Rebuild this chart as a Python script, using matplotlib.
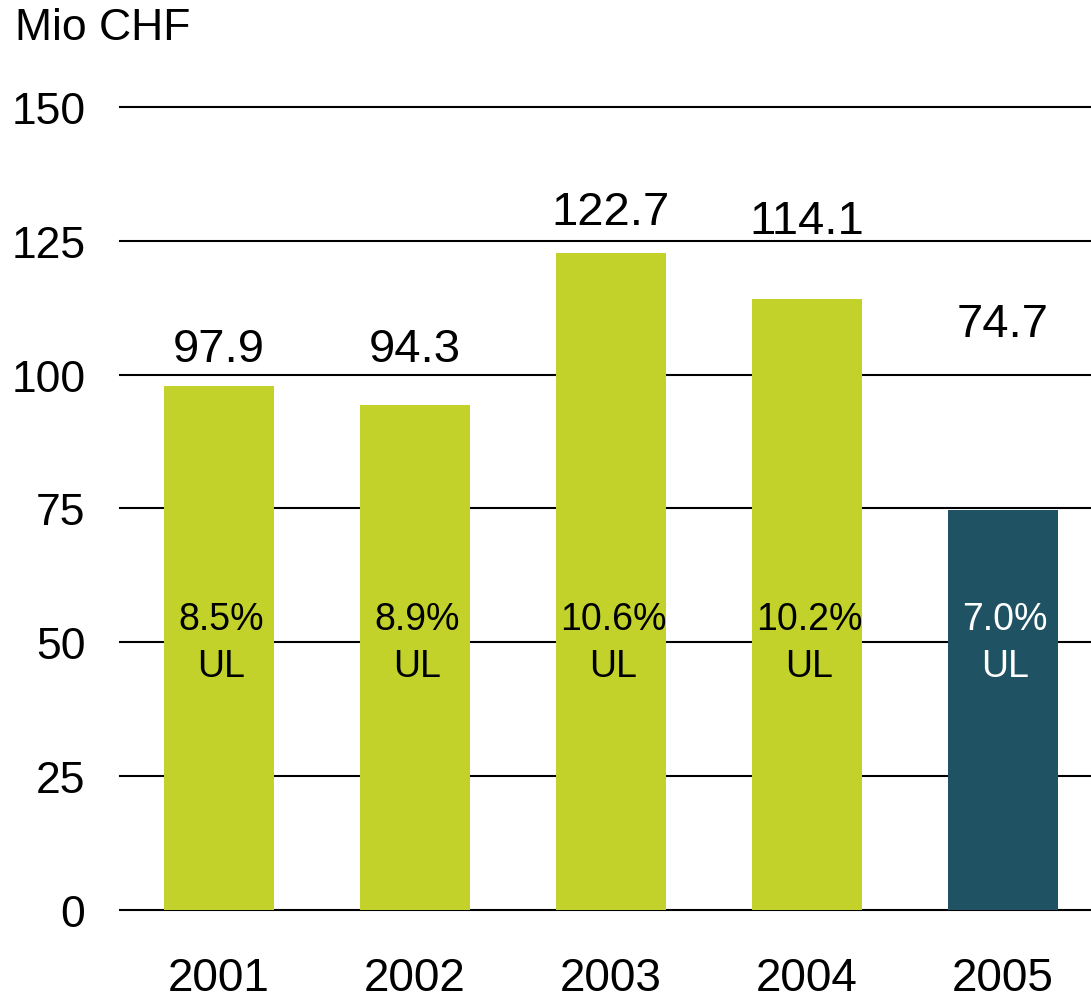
import numpy as np
import matplotlib.pyplot as plt

plt.rcParams['font.family'] = ['Liberation Sans', 'DejaVu Sans']

years = ['2001', '2002', '2003', '2004', '2005']
values = [97.9, 94.3, 122.7, 114.1, 74.7]
ul_share = ['8.5%', '8.9%', '10.6%', '10.2%', '7.0%']
# heights (in chart units) where the value labels sit
label_y = [104.8, 104.8, 130.4, 128.7, 109.5]

green = '#C2D22B'
teal = '#1F5262'
colors = [green] * 4 + [teal]

fig = plt.figure(figsize=(10.91, 9.95), dpi=100)
ax = fig.add_axes([0.110, 0.0844, 0.890, 0.8071])

x = np.arange(len(years))
ax.bar(x, values, width=0.56, color=colors, zorder=2)

for yv in np.arange(0, 151, 25):
    ax.axhline(yv, color='black', lw=1.5, zorder=1, clip_on=False)

for i in range(len(years)):
    ax.text(x[i], label_y[i], f'{values[i]:.1f}', ha='center', va='center',
            fontsize=34, color='black')
    tc = 'white' if i == len(years) - 1 else 'black'
    ax.text(x[i] + 0.01, 50, ul_share[i] + '\nUL', ha='center', va='center',
            fontsize=27, color=tc, linespacing=1.4)

ax.set_xlim(-0.505, 4.449)
ax.set_ylim(0, 150)
ax.set_yticks(np.arange(0, 151, 25))
ax.set_xticks(x)
ax.set_xticklabels(years)
ax.tick_params(axis='both', length=0, labelsize=32)
ax.tick_params(axis='x', labelsize=33, pad=33)
ax.tick_params(axis='y', pad=25)
for s in ax.spines.values():
    s.set_visible(False)

fig.text(15 / 1091, 1 - 29 / 995, 'Mio CHF', fontsize=32, ha='left', va='center')

fig.savefig('out.png', dpi=100)
